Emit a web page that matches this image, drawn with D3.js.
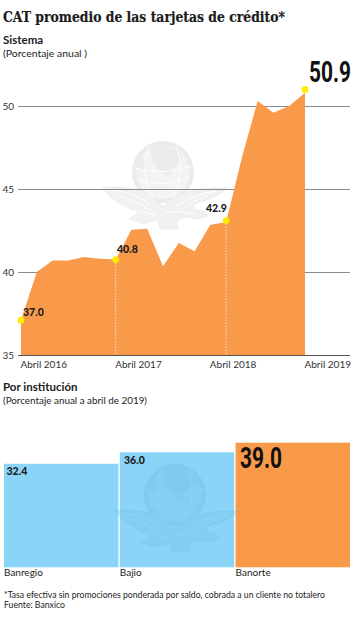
<!DOCTYPE html>
<html><head><meta charset="utf-8">
<script src="https://cdn.jsdelivr.net/npm/d3@7"></script>
<style>html,body{margin:0;padding:0;background:#fff}svg{display:block}text{font-family:Lato,sans-serif;fill:#1c1c1c}</style>
</head><body><svg id="c" width="354" height="620"></svg>
<script>
const seriesIndex = [0,1,2,3,4,5,6,7,8,9,10,11,12,13,14,15,16,17,18];
const seriesValues = [37.1,40.0,40.7,40.7,40.9,40.8,40.75,42.55,42.6,40.35,41.75,41.25,42.85,43.0,46.9,50.3,49.6,50.0,50.8];
const yTicks = [35,40,45,50];
const xTickIndex = [0,6,12,18];
const xTickLabels = ["Abril 2016","Abril 2017","Abril 2018","Abril 2019"];
const markerIndex = [0,6,13,18];
const markerValues = [37.1,40.75,43.1,51.0];
const markerLabels = ["37.0","40.8","42.9","50.9"];
const dashedIndex = [6,13];
const banks = ["Banregio","Bajio","Banorte"];
const bankValues = [32.4,36.0,39.0];
const bankColors = ["#8AD4F8","#8AD4F8","#F99A4B"];

const svg = d3.select("#c");
const x = d3.scaleLinear().domain([0,18]).range([21,305]);
const y = d3.scaleLinear().domain([35,50]).range([355,106]);
const h = d3.scaleLinear().domain([0,39]).range([567.3,442.7]);
const xb = d3.scaleBand().domain(banks).range([4,350]).paddingInner(0.012);

function txt(s,tx,ty,size,weight,extra){
  const t=svg.append("text").attr("x",tx).attr("y",ty).attr("font-size",size).attr("font-weight",weight).text(s);
  if(extra&&extra.len) t.attr("textLength",extra.len).attr("lengthAdjust","spacingAndGlyphs");
  if(extra&&extra.family) t.style("font-family",extra.family);
  return t;
}
function bigNumber(s,tx,ty){
  return svg.append("text").attr("transform",`translate(${tx},${ty}) scale(0.72,1)`)
    .attr("font-size",29).attr("font-weight",700).style("font-family","Roboto").style("fill","#111").text(s);
}
const wingPath="M-60,15 C-45,15 -25,16 -16,22 C-10,26 -5,30 0,34 C8,28 20,20 32,18 C42,16 54,16 64,16 C56,24 46,28 36,30 L30,34 L33,37 L42,40 L45,44 L36,47 L22,45 L14,49 L15,57 L-3,57 L-5,48 L-20,52 L-34,47 L-24,41 L-36,35 C-46,30 -56,24 -60,15Z";
function watermark(cx,cy,fill,op,lineCol){
  const g=svg.append("g").attr("transform",`translate(${cx},${cy})`).attr("opacity",op);
  g.append("circle").attr("r",31).attr("fill",fill);
  g.append("circle").attr("r",27).attr("fill",lineCol).attr("opacity",.4);
  g.append("path").attr("d","M-8,-30 C6,-26 14,-24 20,-14 C16,-6 10,-6 8,2 C2,6 -4,0 -8,-8 C-14,-14 -12,-24 -8,-30Z M-26,-12 C-20,-18 -16,-10 -18,-2 C-22,0 -26,-4 -26,-12Z").attr("fill",fill);
  g.append("path").attr("d","M-24,8 Q0,16 26,6 M-29,-4 Q0,4 30,-6 M-14,-26 Q-24,0 -10,26 M14,-26 Q22,0 10,26").attr("fill","none").attr("stroke",lineCol).attr("stroke-width",1);
  g.append("path").attr("d",wingPath).attr("fill",lineCol);
  g.append("path").attr("d",wingPath).attr("fill",fill).attr("fill-opacity",.7).attr("stroke",fill).attr("stroke-width",.8);
  g.append("path").attr("d","M-52,18 Q-30,20 -12,33 M-44,24 Q-28,28 -10,40 M-30,38 Q-18,40 -6,44 M54,19 Q30,22 14,34 M44,24 Q30,28 18,38 M2,40 Q16,38 30,42").attr("fill","none").attr("stroke",lineCol).attr("stroke-width",1);
}

// header
txt("CAT promedio de las tarjetas de crédito*",3,22,15,700,{family:"'DejaVu Serif',serif",len:282}).style("stroke","#1c1c1c").style("stroke-width",.2);
txt("Sistema",3,44,11.5,700);
txt("(Porcentaje anual )",3,57,9.5,400,{len:84});

// top chart
watermark(163,172,"#ebebeb",1,"#ffffff");
const yAxis = d3.axisLeft(y).tickValues(yTicks).tickSize(-332).tickPadding(4);
const yg = svg.append("g").attr("transform","translate(18,0)").call(yAxis);
yg.select(".domain").remove();
yg.selectAll("line").attr("stroke","#8a8a8a").attr("stroke-width",1.2);
yg.selectAll("line").filter(d=>d===35).attr("stroke","#555");
yg.selectAll("text").attr("font-size",10).attr("x",-4).style("font-family","Lato").style("fill","#333");

const area = d3.area().x(d=>x(d)).y0(y(35)).y1(d=>y(seriesValues[d]));
svg.append("path").datum(seriesIndex).attr("d",area).attr("fill","#F99A4B");

svg.selectAll(".drop").data(dashedIndex).join("line")
  .attr("x1",d=>x(d)).attr("x2",d=>x(d))
  .attr("y1",d=>y(markerValues[markerIndex.indexOf(d)])).attr("y2",y(35))
  .attr("stroke","#fff").attr("stroke-width",.8).attr("stroke-dasharray","1.5 1.5").attr("opacity",.85);
svg.selectAll(".dot").data(markerIndex).join("circle")
  .attr("cx",d=>x(d)).attr("cy",(d,i)=>y(markerValues[i])).attr("r",3.4).attr("fill","#FFEC00");

const xAxis = d3.axisBottom(x).tickValues(xTickIndex).tickFormat((d,i)=>xTickLabels[i]).tickSize(0).tickPadding(6);
const xg = svg.append("g").attr("transform","translate(-1,355)").call(xAxis);
xg.select(".domain").remove();
xg.selectAll("text").attr("text-anchor","start").attr("font-size",10).style("font-family","Lato").style("fill","#333");

const lblPos=[[23,316],[117,253],[206,212]];
lblPos.forEach((p,i)=>txt(markerLabels[i],p[0],p[1],10.5,900));
bigNumber(markerLabels[3],309,82);

// lower chart
txt("Por institución",3,391,11.5,700);
txt("(Porcentaje anual a abril de 2019)",3,404,9.5,400,{len:144});

svg.selectAll(".bar").data(banks).join("rect")
  .attr("x",d=>xb(d)).attr("width",xb.bandwidth())
  .attr("y",(d,i)=>h(bankValues[i])).attr("height",(d,i)=>h(0)-h(bankValues[i]))
  .attr("fill",(d,i)=>bankColors[i]);

watermark(175,495,"#5aa9d0",.22,"#8AD4F8");

const bl=[[6.5,475],[124,464]];
bl.forEach((p,i)=>txt(bankValues[i].toFixed(1),p[0],p[1],10.5,900));
bigNumber(bankValues[2].toFixed(1),240,467.5);

banks.forEach(b=>txt(b,xb(b),576,10,400));

txt("*Tasa efectiva sin promociones ponderada por saldo, cobrada a un cliente no totalero",4,598,8.8,400,{len:321});
txt("Fuente: Banxico",4,608,8.8,400,{len:61});
</script></body></html>
